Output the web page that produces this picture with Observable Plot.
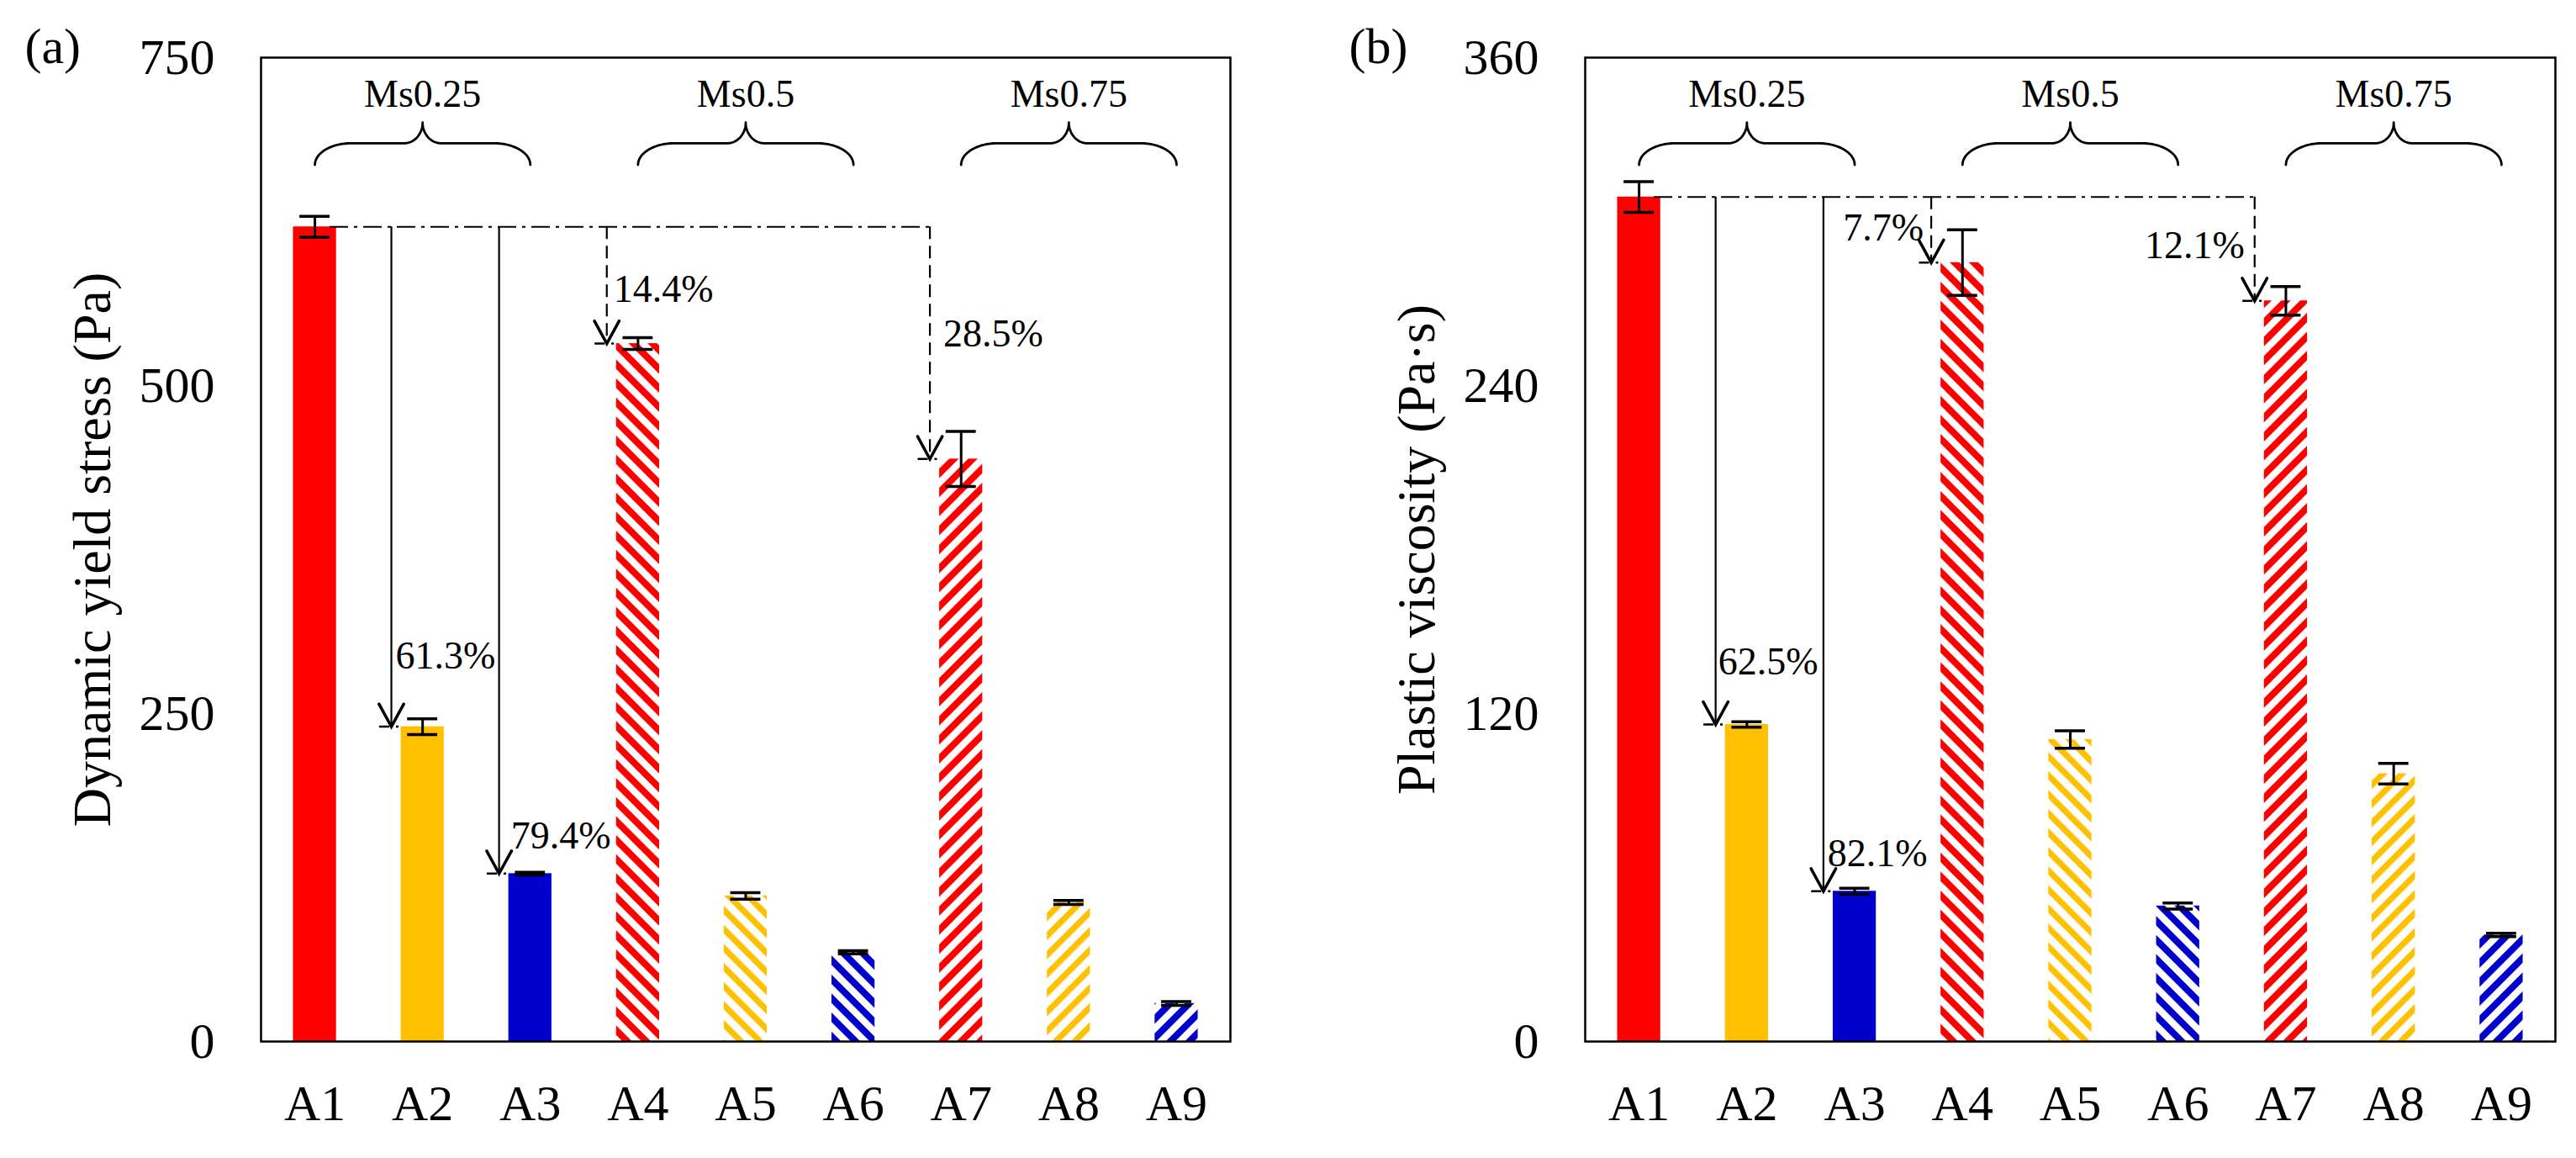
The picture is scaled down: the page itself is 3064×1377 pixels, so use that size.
<!DOCTYPE html>
<html>
<head>
<meta charset="utf-8">
<script src="https://cdn.jsdelivr.net/npm/d3@7"></script>
<script src="https://cdn.jsdelivr.net/npm/@observablehq/plot@0.6"></script>
<style>
html, body { margin: 0; padding: 0; background: #fff; }
#row { display: flex; width: 3064px; height: 1377px; }
svg text { font-family: 'Liberation Serif', 'Times New Roman', serif; }
</style>
</head>
<body>
<svg width="0" height="0" style="position:absolute"><defs id="defs"></defs></svg>
<div id="row"></div>
<script>
// ---------- data ----------
const samples = ["A1", "A2", "A3", "A4", "A5", "A6", "A7", "A8", "A9"];
const groups = ["Ms0.25", "Ms0.5", "Ms0.75"];
const groupMembers = [["A1", "A3"], ["A4", "A6"], ["A7", "A9"]];

const yieldStress = [621, 240, 128, 532, 111, 68, 444, 106, 29];
const yieldStressErr = [8, 6, 1, 4.5, 2.5, 1.2, 21, 1.5, 1.5];
const yieldTicks = [0, 250, 500, 750];

const viscosity = [309, 116, 55, 285, 110.5, 49.6, 271, 98, 39];
const viscosityErr = [5.6, 1, 1.1, 12, 3.2, 1.1, 5.2, 3.8, 0.6];
const viscosityTicks = [0, 120, 240, 360];

const yieldAnnotations = [
  {to: "A2", pct: "61.3%", dashed: false},
  {to: "A3", pct: "79.4%", dashed: false},
  {to: "A4", pct: "14.4%", dashed: true},
  {to: "A7", pct: "28.5%", dashed: true}
];
const viscosityAnnotations = [
  {to: "A2", pct: "62.5%", dashed: false},
  {to: "A3", pct: "82.1%", dashed: false},
  {to: "A4", pct: "7.7%", dashed: true},
  {to: "A7", pct: "12.1%", dashed: true}
];

// ---------- styles ----------
const RED = "#ff0000", GOLD = "#ffc000", BLUE = "#0000cc";
const barColors = [RED, GOLD, BLUE, RED, GOLD, BLUE, RED, GOLD, BLUE];
const barHatch = ["solid", "solid", "solid", "back", "back", "back", "fwd", "fwd", "fwd"];
// label placement (px) relative to arrow tip: [dx, dy, anchor]
const yieldLabelPos = [[5, -84, "start"], [14, -45, "start"], [8, -64, "start"], [16, -149, "start"]];
const viscLabelPos = [[3, -74, "start"], [5, -44, "start"], [-9, -41, "end"], [-12, -65, "end"]];

const ns = "http://www.w3.org/2000/svg";
const defs = document.getElementById("defs");
function addPattern(id, color, angle, period, frac) {
  const p = document.createElementNS(ns, "pattern");
  p.setAttribute("id", id);
  p.setAttribute("patternUnits", "userSpaceOnUse");
  p.setAttribute("width", period);
  p.setAttribute("height", period);
  p.setAttribute("patternTransform", `rotate(${angle})`);
  const bg = document.createElementNS(ns, "rect");
  bg.setAttribute("width", period); bg.setAttribute("height", period); bg.setAttribute("fill", "#fff");
  const st = document.createElementNS(ns, "rect");
  st.setAttribute("width", period * frac); st.setAttribute("height", period); st.setAttribute("fill", color);
  p.appendChild(bg); p.appendChild(st);
  defs.appendChild(p);
}
function fillFor(k) {
  const c = barColors[k], h = barHatch[k];
  if (h === "solid") return c;
  const id = `hatch-${h}-${c.slice(1)}`;
  if (!document.getElementById(id)) addPattern(id, c, h === "fwd" ? 45 : -45, 16, c === GOLD ? 0.45 : 0.5);
  return `url(#${id})`;
}

const FONT = "'Liberation Serif', 'Times New Roman', serif";
const ARROW_OFF = -0.29;

function panel(o) {
  const rows = samples.map((s, k) => ({name: s, i: k + 1, v: o.values[k], e: o.errors[k], fill: fillFor(k)}));
  const byName = Object.fromEntries(rows.map(r => [r.name, r]));
  const ymax = o.ticks[o.ticks.length - 1];
  const ref = byName["A1"];
  const ann = o.annotations.map((a, k) => ({
    ...a, x: byName[a.to].i + ARROW_OFF, xt: byName[a.to].i, yRef: ref.v, yT: byName[a.to].v, pos: o.labelPos[k]
  }));
  const lastX = d3.max(ann, a => a.x);

  // arrowheads (open V) in data units
  const headW = 0.115, headH = ymax * 0.023;
  const headPts = [];
  ann.forEach((a, k) => {
    headPts.push({k, x: a.x - headW, y: a.yT + headH});
    headPts.push({k, x: a.x, y: a.yT});
    headPts.push({k, x: a.x + headW, y: a.yT + headH});
  });

  // braces
  const braceEnd = ymax * 0.891, braceMid = ymax * 0.913, braceTip = ymax * 0.934;
  const rxOut = 0.34, rxIn = 0.17;
  const bracePts = [];
  groups.forEach((g, gi) => {
    const x0 = byName[groupMembers[gi][0]].i, x1 = byName[groupMembers[gi][1]].i, xc = (x0 + x1) / 2;
    const ryO = braceMid - braceEnd, ryI = braceTip - braceMid;
    const seg = [];
    const N = 24;
    for (let t = 0; t <= N; t++) { const a = Math.PI - (Math.PI / 2) * t / N; seg.push([x0 + rxOut + rxOut * Math.cos(a), braceEnd + ryO * Math.sin(a)]); }
    for (let t = 0; t <= N; t++) { const a = -Math.PI / 2 + (Math.PI / 2) * t / N; seg.push([xc - rxIn + rxIn * Math.cos(a), braceTip + ryI * Math.sin(a)]); }
    for (let t = 0; t <= N; t++) { const a = Math.PI + (Math.PI / 2) * t / N; seg.push([xc + rxIn + rxIn * Math.cos(a), braceTip + ryI * Math.sin(a)]); }
    for (let t = 0; t <= N; t++) { const a = Math.PI / 2 - (Math.PI / 2) * t / N; seg.push([x1 - rxOut + rxOut * Math.cos(a), braceEnd + ryO * Math.sin(a)]); }
    seg.forEach(([x, y]) => bracePts.push({g, x, y}));
  });
  const groupLabels = groups.map((g, gi) => ({g, x: (byName[groupMembers[gi][0]].i + byName[groupMembers[gi][1]].i) / 2}));

  const marks = [
    Plot.rect(rows, {x1: d => d.i - 0.2, x2: d => d.i + 0.2, y1: 0, y2: "v", fill: "fill"}),
    // reference dash-dot line
    Plot.ruleY([ref], {y: "v", x1: d => d.i + 0.14, x2: lastX, stroke: "black", strokeWidth: 2.2, strokeDasharray: "22,7,4,7"}),
    // arrow shafts
    Plot.ruleX(ann.filter(a => !a.dashed), {x: "x", y1: "yRef", y2: "yT", stroke: "black", strokeWidth: 2.2}),
    Plot.ruleX(ann.filter(a => a.dashed), {x: "x", y1: "yRef", y2: "yT", stroke: "black", strokeWidth: 2.2, strokeDasharray: "15,8"}),
    // arrow heads
    Plot.line(headPts, {x: "x", y: "y", z: "k", stroke: "black", strokeWidth: 3.5, strokeLinejoin: "miter", strokeMiterlimit: 10}),
    // short dash at arrow tip
    Plot.ruleY(ann, {y: "yT", x1: d => d.x - 0.11, x2: d => d.xt - 0.2, stroke: "black", strokeWidth: 2.5, strokeDasharray: "12,8,3,8"}),
    // error bars
    Plot.ruleX(rows, {x: "i", y1: d => d.v - d.e, y2: d => d.v + d.e, stroke: "black", strokeWidth: 3}),
    Plot.ruleY(rows, {y: d => d.v + d.e, x1: d => d.i - 0.14, x2: d => d.i + 0.14, stroke: "black", strokeWidth: 3.5}),
    Plot.ruleY(rows, {y: d => d.v - d.e, x1: d => d.i - 0.14, x2: d => d.i + 0.14, stroke: "black", strokeWidth: 3.5}),
    // braces + group labels
    Plot.line(bracePts, {x: "x", y: "y", z: "g", stroke: "black", strokeWidth: 2.8}),
    Plot.text(groupLabels, {x: "x", y: () => ymax * 0.963, text: "g", fontSize: 46, fontFamily: FONT, lineAnchor: "middle"}),
    Plot.frame({stroke: "black", strokeWidth: 2.5}),
    Plot.axisX({ticks: rows.map(d => d.i), tickFormat: i => samples[i - 1], tickSize: 0, tickPadding: 51, fontSize: 60, fontFamily: FONT, label: null}),
    Plot.axisY({ticks: o.ticks, tickSize: 0, tickPadding: 55, fontSize: 60, fontFamily: FONT, label: null}),
    Plot.text([o.yLabel], {frameAnchor: "left", dx: -200, rotate: -90, fontSize: 64, fontFamily: FONT, text: d => d, textAnchor: "middle", lineAnchor: "middle"}),
    Plot.text([o.letter], {frameAnchor: "top-left", dx: -281, dy: -13, textAnchor: "start", lineAnchor: "middle", fontSize: 60, fontFamily: FONT, text: d => d})
  ];
  ann.forEach(a => {
    marks.push(Plot.text([a], {x: "x", y: "yT", text: "pct", dx: a.pos[0], dy: a.pos[1], textAnchor: a.pos[2], lineAnchor: "middle", fontSize: 46, fontFamily: FONT}));
  });

  return Plot.plot({
    width: 1532, height: 1377,
    marginLeft: o.marginLeft, marginRight: o.marginRight, marginTop: 68, marginBottom: 139,
    x: {domain: [0.5, 9.5], axis: null},
    y: {domain: [0, ymax], axis: null},
    color: {type: "identity"},
    style: {fontFamily: FONT, fontSize: "60px", color: "black", background: "white", overflow: "visible"},
    marks
  });
}

const row = document.getElementById("row");
row.appendChild(panel({
  values: yieldStress, errors: yieldStressErr, ticks: yieldTicks, annotations: yieldAnnotations, labelPos: yieldLabelPos,
  yLabel: "Dynamic yield stress (Pa)", letter: "(a)", marginLeft: 310, marginRight: 69
}));
row.appendChild(panel({
  values: viscosity, errors: viscosityErr, ticks: viscosityTicks, annotations: viscosityAnnotations, labelPos: viscLabelPos,
  yLabel: "Plastic viscosity (Pa·s)", letter: "(b)", marginLeft: 353, marginRight: 25
}));
</script>
</body>
</html>
